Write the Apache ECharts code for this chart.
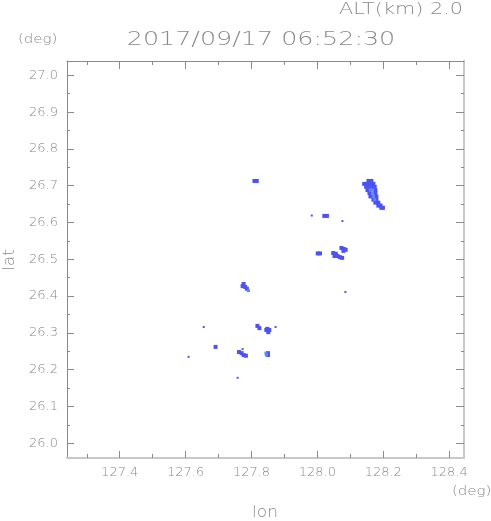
<!DOCTYPE html>
<html><head><meta charset="utf-8">
<script src="https://cdn.jsdelivr.net/npm/echarts@6/dist/echarts.min.js"></script>
<style>html,body{margin:0;padding:0;background:#fff}#c{width:491px;height:521px}</style>
</head><body><div id="c"></div><script>
// ---- data ----
const lonRange = [127.24, 128.445];
const latRange = [25.96, 27.039];
const lonTicks = [127.4, 127.6, 127.8, 128.0, 128.2, 128.4];
const lonMinor = [127.3, 127.5, 127.7, 127.9, 128.1, 128.3];
const latTicks = [26.0, 26.1, 26.2, 26.3, 26.4, 26.5, 26.6, 26.7, 26.8, 26.9, 27.0];
const latMinor = [26.05, 26.15, 26.25, 26.35, 26.45, 26.55, 26.65, 26.75, 26.85, 26.95];
const titleText = '2017/09/17 06:52:30';
const altText = 'ALT(km) 2.0';

// echo cells [lon, lat]
const echoCells = [
  [128.155,26.713],[128.164,26.713],
  [128.142,26.705],[128.152,26.705],[128.161,26.705],[128.170,26.705],
  [128.148,26.697],[128.158,26.697],[128.167,26.697],[128.174,26.697],
  [128.152,26.688],[128.176,26.688],
  [128.158,26.680],[128.176,26.680],
  [128.161,26.671],[128.179,26.671],
  [128.170,26.662],[128.179,26.662],
  [128.176,26.654],[128.185,26.654],
  [128.185,26.646],[128.192,26.646],
  [128.194,26.640],[128.199,26.640],
  [127.809,26.713],[127.816,26.713],
  [128.021,26.618],[128.029,26.618],
  [128.001,26.516],[128.008,26.516],
  [128.048,26.517],[128.056,26.515],[128.052,26.509],[128.061,26.509],
  [128.068,26.506],[128.075,26.504],
  [128.073,26.531],[128.080,26.528],[128.086,26.526],[128.079,26.523],
  [127.776,26.433],[127.773,26.427],[127.781,26.425],[127.786,26.420],
  [127.818,26.319],[127.824,26.313],
  [127.848,26.311],[127.854,26.308],[127.851,26.302],[127.845,26.308],
  [127.762,26.248],[127.770,26.245],[127.776,26.240],[127.783,26.238],
  [127.850,26.245],[127.850,26.240],
  [127.691,26.262]
];
const echoCore = [
  [128.161,26.688],[128.167,26.688],[128.167,26.680],[128.170,26.671],[128.174,26.662],
  [127.791,26.415],[127.844,26.245],[127.845,26.240]
];
const echoSpecks = [
  [127.983,26.619],[128.076,26.604],[128.085,26.411],[127.873,26.316],
  [127.655,26.316],[127.609,26.235],[127.773,26.256],[127.758,26.178]
];

// ---- chart ----
const chart = echarts.init(document.getElementById('c'), null, {renderer: 'canvas'});
const GRAY = '#8a8a8a';
function axis(kind, pos, vals, len, opts) {
  const isX = kind === 'x';
  return Object.assign({
    type: 'value', position: pos, gridIndex: 0,
    min: isX ? lonRange[0] : latRange[0], max: isX ? lonRange[1] : latRange[1],
    splitLine: {show: false},
    axisLine: {show: false},
    axisTick: {show: true, inside: true, length: len, customValues: vals, lineStyle: {color: '#8a8a8a', width: 1}},
    axisLabel: {show: false}
  }, opts || {});
}
const labelStyle = {show: true, color: GRAY, fontSize: 13, fontFamily: 'DejaVu Sans', fontWeight: 300, formatter: v => v.toFixed(1)};
const option = {
  backgroundColor: '#fff',
  animation: false,
  grid: {left: 67, top: 61, width: 397, height: 397},
  xAxis: [
    axis('x', 'bottom', lonTicks, 7, {axisLine: {show: true, lineStyle: {color: '#c8c8c8', width: 2}},
      axisLabel: Object.assign({customValues: lonTicks, margin: 8}, labelStyle)}),
    axis('x', 'bottom', lonMinor, 4),
    axis('x', 'top', lonTicks, 8, {axisLine: {show: true, lineStyle: {color: '#8a8a8a', width: 1}}}),
    axis('x', 'top', lonMinor, 4)
  ],
  yAxis: [
    axis('y', 'left', latTicks, 7, {axisLine: {show: true, lineStyle: {color: '#8a8a8a', width: 1}},
      axisLabel: Object.assign({customValues: latTicks, margin: 9}, labelStyle)}),
    axis('y', 'left', latMinor, 3),
    axis('y', 'right', latTicks, 8, {axisLine: {show: true, lineStyle: {color: '#c8c8c8', width: 2}}}),
    axis('y', 'right', latMinor, 3)
  ],
  series: [
    {type: 'scatter', data: echoCells, symbol: 'rect', symbolSize: 4, itemStyle: {color: '#4d52f2', opacity: 1}, silent: true},
    {type: 'scatter', data: echoCore, symbol: 'rect', symbolSize: 3, itemStyle: {color: '#5a8af2', opacity: 1}, silent: true},
    {type: 'scatter', data: echoSpecks, symbol: 'rect', symbolSize: 2, itemStyle: {color: '#4d52f2', opacity: 1}, silent: true}
  ],
  graphic: [
    {type: 'text', x: 463, y: 10, scaleX: 1.3, style: {text: altText, fill: '#8a8a8a', font: '200 16px "DejaVu Sans"', textAlign: 'right', textVerticalAlign: 'middle'}},
    {type: 'text', x: 261, y: 40, scaleX: 1.27, style: {text: titleText, fill: '#8a8a8a', font: '200 20px "DejaVu Sans"', textAlign: 'center', textVerticalAlign: 'middle'}},
    {type: 'text', x: 18, y: 40, scaleX: 1.25, style: {text: '(deg)', fill: '#8a8a8a', font: '200 12px "DejaVu Sans"', textAlign: 'left', textVerticalAlign: 'middle'}},
    {type: 'text', x: 452, y: 492, scaleX: 1.25, style: {text: '(deg)', fill: '#8a8a8a', font: '200 12px "DejaVu Sans"', textAlign: 'left', textVerticalAlign: 'middle'}},
    {type: 'text', x: 265, y: 513, scaleX: 1.13, style: {text: 'lon', fill: '#8a8a8a', font: '200 15px "DejaVu Sans"', textAlign: 'center', textVerticalAlign: 'middle'}},
    {type: 'text', x: 10, y: 260, rotation: Math.PI / 2, scaleX: 1.13, style: {text: 'lat', fill: '#8a8a8a', font: '200 15px "DejaVu Sans"', textAlign: 'center', textVerticalAlign: 'middle'}}
  ]
};
chart.setOption(option);
</script></body></html>
